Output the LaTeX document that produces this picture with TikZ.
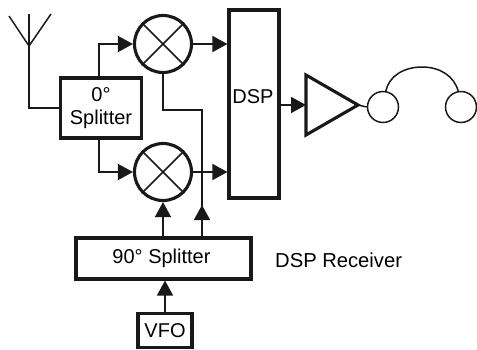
\documentclass[tikz,border=0pt]{standalone}
\usepackage{fontspec}
\setmainfont{Liberation Sans}
\usetikzlibrary{arrows.meta,shapes.geometric}
\tikzset{
  wire/.style={line width=1.5pt,draw=black!90},
  flow/.style={wire,-{Triangle[length=15pt,width=16pt]}},
  blockbox/.style={draw=black!90,line width=3.1pt,inner sep=0pt,align=center,font=\fontsize{20}{23.5}\selectfont},
  mixer/.style={circle,draw=black!90,line width=3.1pt,minimum size=57pt,inner sep=0pt},
  cross/.style={line width=1.5pt,draw=black!90},
  ear/.style={circle,draw=black!90,line width=1.5pt,minimum size=31pt,inner sep=0pt},
  plain/.style={font=\fontsize{20}{24}\selectfont,inner sep=0pt},
}
\begin{document}
\begin{tikzpicture}[x=1pt,y=-1pt]
\useasboundingbox[fill=white] (0,0) rectangle (477,349);
% antenna
\coordinate (apex) at (29,46);
\coordinate (armL) at (9,16);
\coordinate (armR) at (51,14);
\coordinate (armC) at (29,14);
\draw[wire] (armL) -- (apex) -- (armR);
\draw[wire] (armC) -- (apex);
% blocks
\node[blockbox,minimum width=81pt,minimum height=60pt] (split0) at (101,108) {0°\\Splitter};
\node[mixer] (mixA) at (163,44) {};
\node[mixer] (mixB) at (163,172) {};
\node[blockbox,minimum width=50pt,minimum height=188pt] (dsp) at (254,104) {};
\node[plain] (dsplabel) at (253,97) {DSP};
\node[blockbox,minimum width=175pt,minimum height=41pt] (split90) at (163.5,258.5) {\kern-4pt 90° Splitter};
\node[blockbox,minimum width=54pt,minimum height=34pt] (vfo) at (165,330.5) {\raisebox{-1.5pt}{VFO}};
\node[plain,anchor=west,font=\fontsize{20.2}{24}\selectfont] (rxlabel) at (275,260) {DSP Receiver};
\node[ear] (earL) at (383,107) {};
\node[ear] (earR) at (461,107) {};
% amplifier
\coordinate (ampA) at (306,75);
\coordinate (ampB) at (306,135);
\coordinate (ampTip) at (358,105);
\draw[draw=black!90,line width=3.1pt,line join=miter] (ampA) -- (ampTip) -- (ampB) -- cycle;
% mixer crosses
\foreach \m in {mixA,mixB}{
  \draw[cross] (\m.45) -- (\m.225);
  \draw[cross] (\m.135) -- (\m.315);
}
% connectors
\draw[wire] (apex) |- (split0.west);
\draw[flow] (split0.north -| 99,0) |- (mixA.west);
\draw[flow] (split0.south -| 99,0) |- (mixB.west);
\draw[flow] (mixA.east) -- (mixA.east -| dsp.west);
\draw[flow] (mixB.east) -- (mixB.east -| dsp.west);
\coordinate (bendA) at (163,110);
\coordinate (bendB) at (202,110);
\coordinate (tap) at (202,205);
\draw[wire] (mixA.south) -- (bendA) -- (bendB) -- (split90.north -| bendB);
\draw[flow] (split90.north -| bendB) -- (tap);
\draw[flow] (split90.north -| mixB) -- (mixB.south);
\draw[flow] (vfo.north) -- (split90.south -| vfo.north);
\draw[flow] (dsp.east |- ampTip) -- (ampA |- ampTip);
\draw[wire] (ampTip) -- (earL.west);
\draw[wire] (earL.80) .. controls (389,76) and (404,67) .. (422,67) .. controls (440,67) and (454,76) .. (earR.100);
\end{tikzpicture}
\end{document}
